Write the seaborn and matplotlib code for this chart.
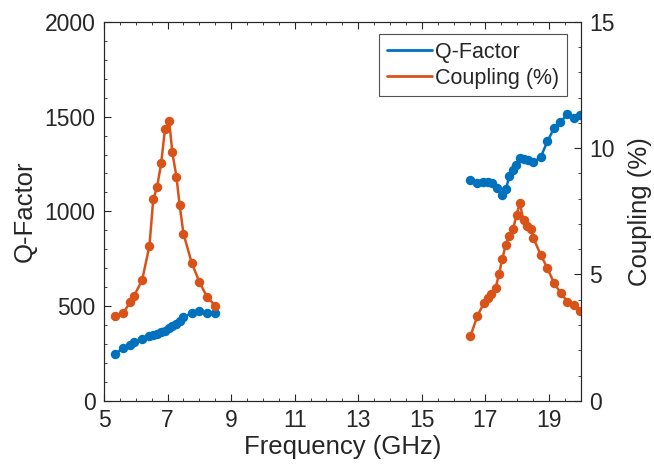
import numpy as np
import pandas as pd
import matplotlib
matplotlib.use("Agg")
import matplotlib.pyplot as plt
from matplotlib.lines import Line2D
from matplotlib.ticker import MultipleLocator
import seaborn as sns

# low band (GHz) and measured values
freq_low = [5.35, 5.6, 5.83, 5.95, 6.2, 6.43, 6.55, 6.67, 6.8, 6.92,
            7.05, 7.15, 7.28, 7.38, 7.5, 7.76, 8.0, 8.25, 8.5]
q_low = [246, 278, 297, 308, 326, 340, 348, 354, 362, 371,
         382, 396, 406, 419, 442, 463, 472, 463, 466]
c_low = [3.34, 3.47, 3.91, 4.16, 4.78, 6.13, 7.98, 8.46, 9.41, 10.77,
         11.09, 9.83, 8.87, 7.75, 6.62, 5.46, 4.71, 4.09, 3.77]

# high band, Q-factor
freq_high = [16.53, 16.75, 16.94, 17.08, 17.2, 17.35, 17.53, 17.65, 17.75, 17.87,
             17.97, 18.08, 18.2, 18.33, 18.5, 18.74, 18.95, 19.16, 19.36, 19.58,
             19.79, 19.98]
q_high = [1163, 1149, 1157, 1157, 1147, 1122, 1087, 1117, 1187, 1219,
          1245, 1281, 1275, 1272, 1258, 1286, 1369, 1439, 1469, 1515,
          1492, 1509]
# high band, coupling has its own sampling
freq_c_high = [16.53, 16.75, 16.95, 17.08, 17.19, 17.32, 17.43, 17.53, 17.64, 17.74,
               17.87, 17.98, 18.08, 18.2, 18.32, 18.45, 18.51, 18.74, 18.95, 19.16,
               19.37, 19.58, 19.79, 19.98]
c_high = [2.57, 3.36, 3.87, 4.06, 4.23, 4.46, 5.03, 5.61, 6.17, 6.53,
          6.79, 7.36, 7.82, 7.14, 6.9, 6.79, 6.44, 5.78, 5.25, 4.66,
          4.26, 3.93, 3.8, 3.57]

blue = "#0072BD"
orange = "#D95319"

q_df = pd.DataFrame({
    "freq": freq_low + freq_high,
    "q": q_low + q_high,
    "band": ["low"] * len(freq_low) + ["high"] * len(freq_high),
})
c_df = pd.DataFrame({
    "freq": freq_low + freq_c_high,
    "c": c_low + c_high,
    "band": ["low"] * len(freq_low) + ["high"] * len(freq_c_high),
})

sns.set_style("ticks")
plt.rcParams["font.family"] = ["Liberation Sans", "DejaVu Sans"]
plt.rcParams["axes.edgecolor"] = "#262626"
plt.rcParams["xtick.color"] = "#262626"
plt.rcParams["ytick.color"] = "#262626"

fig = plt.figure(figsize=(6.54, 4.76), dpi=100)
ax = fig.add_axes([0.159, 0.158, 0.729, 0.796])
ax2 = ax.twinx()

sns.lineplot(data=q_df, x="freq", y="q", units="band", estimator=None,
             color=blue, marker="o", markersize=6.8, markeredgewidth=0,
             linewidth=1.8, ax=ax, sort=False)
sns.lineplot(data=c_df, x="freq", y="c", units="band", estimator=None,
             color=orange, marker="o", markersize=6.8, markeredgewidth=0,
             linewidth=1.8, ax=ax2, sort=False)

ax.set_xlim(5, 20)
ax.set_ylim(0, 2000)
ax2.set_ylim(0, 15)
ax.set_xticks([5, 7, 9, 11, 13, 15, 17, 19])
ax.xaxis.set_minor_locator(MultipleLocator(0.5))
ax.set_yticks([0, 500, 1000, 1500, 2000])
ax.yaxis.set_minor_locator(MultipleLocator(100))
ax2.set_yticks([0, 5, 10, 15])
ax2.yaxis.set_minor_locator(MultipleLocator(1))

ax.tick_params(which="both", direction="in", top=True, right=False, labelsize=16.5, pad=6)
ax.tick_params(which="major", length=5, width=0.8)
ax.tick_params(which="minor", length=2.5, width=0.6)
ax2.tick_params(which="both", direction="in", labelsize=16.5, pad=6)
ax2.tick_params(which="major", length=5, width=0.8)
ax2.tick_params(which="minor", length=2.5, width=0.6)
for a in (ax, ax2):
    for s in a.spines.values():
        s.set_linewidth(0.8)

ax.set_xlabel("Frequency (GHz)", fontsize=18.5, labelpad=2)
ax.set_ylabel("Q-Factor", fontsize=18.5, labelpad=6)
ax2.set_ylabel("Coupling (%)", fontsize=18.5, labelpad=10)

handles = [Line2D([], [], color=blue, linewidth=2),
           Line2D([], [], color=orange, linewidth=2)]
leg = ax2.legend(handles, ["Q-Factor", "Coupling (%)"], loc="upper right",
                 bbox_to_anchor=(0.971, 0.968), fontsize=15.5, frameon=True,
                 fancybox=False, edgecolor="#262626", handlelength=2.1,
                 handletextpad=0.15, borderpad=0.35, labelspacing=0.25,
                 borderaxespad=0)
leg.get_frame().set_linewidth(0.8)

fig.savefig("out.png", dpi=100)
